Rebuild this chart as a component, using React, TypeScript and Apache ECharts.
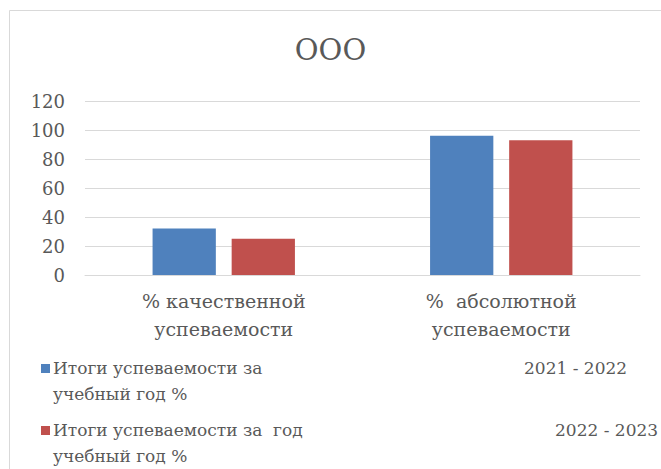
import React, { useEffect, useRef } from "react";
import * as echarts from "echarts";

const titleText = "ООО";
const categories = ["% качественной\nуспеваемости", "%  абсолютной\nуспеваемости"];
const seriesNames = [
  "Итоги успеваемости за учебный год % 2021 - 2022",
  "Итоги успеваемости за  год учебный год % 2022 - 2023",
];
const legendLines = [
  "Итоги успеваемости за\nучебный год %",
  "Итоги успеваемости за  год\nучебный год %",
];
const legendYears = ["2021 - 2022", "2022 - 2023"];
const values2122 = [32, 96];
const values2223 = [25, 93];
const yTicks = { min: 0, max: 120, interval: 20 };

const FONT = "DejaVu Serif";
const TEXT = "#595959";
const COLORS = ["#4F81BD", "#C0504D"];

export default function App() {
  const ref = useRef<HTMLDivElement>(null);
  useEffect(() => {
    document.body.style.margin = "0";
    const chart = echarts.init(ref.current!, null, { renderer: "svg" });
    chart.setOption({
      animation: false,
      backgroundColor: "#ffffff",
      textStyle: { fontFamily: FONT },
      title: {
        text: titleText,
        left: "center",
        top: 30,
        textStyle: { fontFamily: FONT, fontSize: 29, fontWeight: "normal", color: TEXT },
      },
      legend: { show: false },
      grid: { left: 85, right: 21, top: 101, bottom: 194 },
      xAxis: {
        type: "category",
        data: categories,
        axisLine: { lineStyle: { color: "#d9d9d9" } },
        axisTick: { show: false },
        axisLabel: { fontFamily: FONT, fontSize: 19, lineHeight: 28, color: TEXT, margin: 12 },
      },
      yAxis: {
        type: "value",
        min: yTicks.min,
        max: yTicks.max,
        interval: yTicks.interval,
        axisLine: { show: false },
        axisTick: { show: false },
        axisLabel: { fontFamily: FONT, fontSize: 18, color: TEXT, margin: 20 },
        splitLine: { lineStyle: { color: "#d9d9d9" } },
      },
      series: [
        {
          name: seriesNames[0],
          type: "bar",
          data: values2122,
          itemStyle: { color: COLORS[0] },
          barGap: "25%",
          barCategoryGap: "48.7%",
        },
        {
          name: seriesNames[1],
          type: "bar",
          data: values2223,
          itemStyle: { color: COLORS[1] },
          barGap: "25%",
          barCategoryGap: "48.7%",
        },
      ],
      graphic: [
        {
          type: "rect",
          shape: { x: 9.5, y: 10.5, width: 700, height: 500 },
          style: { fill: "none", stroke: "#d9d9d9", lineWidth: 1 },
          silent: true,
        },
        ...legendLines.flatMap((t, i) => {
          const y0 = 364 + i * 62;
          return [
            { type: "rect", shape: { x: 41, y: y0, width: 9, height: 9 }, style: { fill: COLORS[i] } },
            {
              type: "text",
              x: 53,
              y: y0 - 9,
              style: { text: t, fontFamily: FONT, fontSize: 17, fill: TEXT, lineHeight: 26, verticalAlign: "top" },
            },
            {
              type: "text",
              x: i === 0 ? 524 : 555,
              y: y0 - 9,
              style: { text: legendYears[i], fontFamily: FONT, fontSize: 17, fill: TEXT, lineHeight: 26, verticalAlign: "top" },
            },
          ];
        }),
      ],
    });
    return () => chart.dispose();
  }, []);
  return <div ref={ref} style={{ width: 661, height: 469 }} />;
}
